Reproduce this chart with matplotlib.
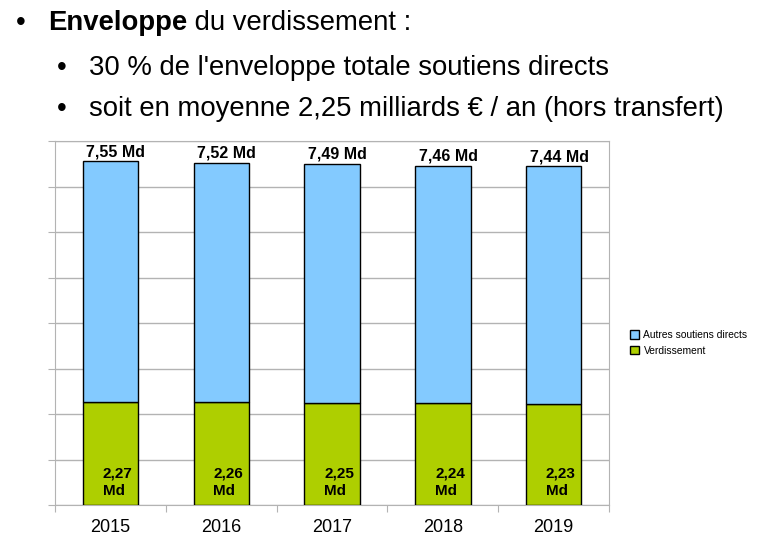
import matplotlib.pyplot as plt
import numpy as np
from matplotlib.transforms import offset_copy

plt.rcParams["font.family"] = ["Liberation Sans", "DejaVu Sans"]

years = ["2015", "2016", "2017", "2018", "2019"]
totals = [7.55, 7.52, 7.49, 7.46, 7.44]
verdissement = [2.27, 2.26, 2.25, 2.24, 2.23]
total_labels = ["7,55 Md", "7,52 Md", "7,49 Md", "7,46 Md", "7,44 Md"]
verd_labels = ["2,27\nMd", "2,26\nMd", "2,25\nMd", "2,24\nMd", "2,23\nMd"]

autres = [t - v for t, v in zip(totals, verdissement)]
blue = "#83CAFF"
green = "#AECF00"
grid = "#B3B3B3"

fig = plt.figure(figsize=(7.78, 5.40), dpi=100)

# bullet text at the top
fs = 19.8
fig.text(16 / 778, 1 - 23 / 540, "•", fontsize=fs, va="center")
t1 = fig.text(48 / 778, 1 - 23 / 540, "Enveloppe", fontsize=fs, fontweight="bold", va="center")
fig.canvas.draw()
w = t1.get_window_extent().width
fig.text(48 / 778, 1 - 23 / 540, " du verdissement :", fontsize=fs, va="center",
         transform=offset_copy(fig.transFigure, fig=fig, x=w * 72 / fig.dpi, units="points"))
fig.text(57 / 778, 1 - 68 / 540, "•", fontsize=fs, va="center")
fig.text(89 / 778, 1 - 68 / 540, "30 % de l'enveloppe totale soutiens directs", fontsize=fs, va="center")
fig.text(57 / 778, 1 - 109 / 540, "•", fontsize=fs, va="center")
fig.text(89 / 778, 1 - 109 / 540, "soit en moyenne 2,25 milliards € / an (hors transfert)",
         fontsize=fs, va="center")

ax = fig.add_axes([55 / 778, 1 - 505 / 540, 554 / 778, 364 / 540])
x = np.arange(len(years))
ax.bar(x, verdissement, width=0.5, color=green, edgecolor="black", linewidth=1,
       label="Verdissement", zorder=3)
ax.bar(x, autres, width=0.5, bottom=verdissement, color=blue, edgecolor="black",
       linewidth=1, label="Autres soutiens directs", zorder=3)

for i in range(len(years)):
    ax.text(x[i] + 0.05, totals[i] + 0.05, total_labels[i], ha="center", va="bottom",
            fontsize=11.5, fontweight="bold", zorder=4)
    ax.text(x[i] - 0.07, 0.15, verd_labels[i], ha="left", va="bottom",
            fontsize=11, fontweight="bold", linespacing=1.3, zorder=4)

ax.set_xlim(-0.5, len(years) - 0.5)
ax.set_ylim(0, 8)
ax.set_yticks(np.arange(0, 9, 1))
ax.set_yticklabels([])
ax.grid(axis="y", color=grid, linewidth=1, zorder=0)
ax.set_xticks(np.arange(-0.5, len(years), 1))
ax.set_xticklabels([])
ax.set_xticks(x, minor=True)
ax.set_xticklabels(years, minor=True, fontsize=13)
ax.tick_params(axis="x", which="minor", length=0, pad=10)
ax.tick_params(axis="both", which="major", length=5, color=grid)
for s in ax.spines.values():
    s.set_color(grid)

handles, labels = ax.get_legend_handles_labels()
leg = fig.legend(handles[::-1], labels[::-1], loc="upper left",
                 bbox_to_anchor=(626 / 778, 1 - 326 / 540), frameon=False,
                 fontsize=7.4, handlelength=0.9, handleheight=0.9,
                 handletextpad=0.4, labelspacing=0.55, borderaxespad=0)

fig.savefig("out.png", dpi=100)
